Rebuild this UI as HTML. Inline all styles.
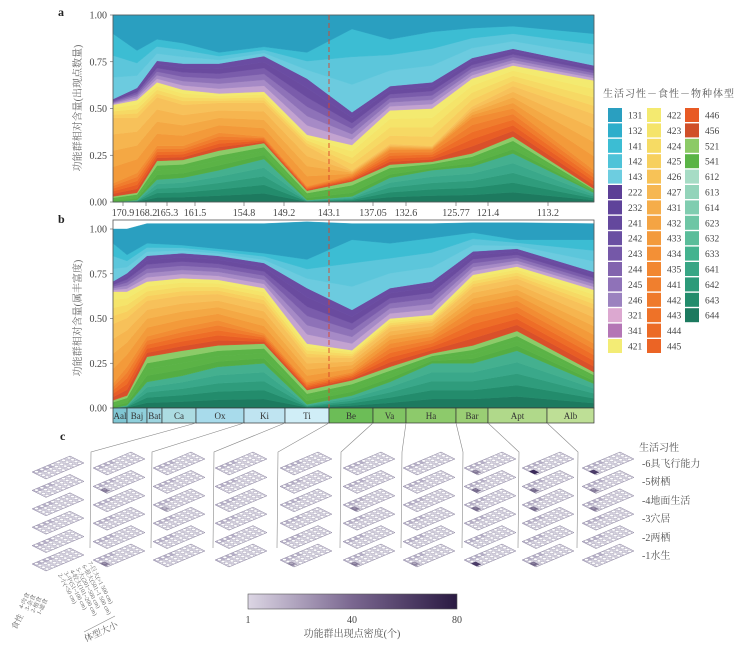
<!DOCTYPE html>
<html><head><meta charset="utf-8">
<style>
body{margin:0;background:#fff;}
svg text{font-family:"Liberation Serif","Noto Serif CJK SC","Noto Sans CJK SC",serif;}
</style></head>
<body>
<svg id="s" width="737" height="647" viewBox="0 0 737 647" xmlns="http://www.w3.org/2000/svg">
<g id="g"></g>
<text x="58" y="16" font-size="12" font-weight="bold" fill="#222">a</text>
<text x="58" y="223" font-size="12" font-weight="bold" fill="#222">b</text>
<text x="60" y="440" font-size="12" font-weight="bold" fill="#222">c</text>
<text transform="translate(81,108) rotate(-90)" font-size="10" fill="#666" text-anchor="middle">功能群相对含量(出现点数量)</text>
<text transform="translate(81,318) rotate(-90)" font-size="10" fill="#666" text-anchor="middle">功能群相对含量(属丰富度)</text>
<text x="603" y="97" font-size="10" fill="#555" letter-spacing="1">生活习性－食性－物种体型</text>
<text x="639" y="451" font-size="10" fill="#555">生活习性</text>
<text x="642" y="467" font-size="10" fill="#555">-6具飞行能力</text>
<text x="642" y="485" font-size="10" fill="#555">-5树栖</text>
<text x="642" y="504" font-size="10" fill="#555">-4地面生活</text>
<text x="642" y="522" font-size="10" fill="#555">-3穴居</text>
<text x="642" y="541" font-size="10" fill="#555">-2两栖</text>
<text x="642" y="559" font-size="10" fill="#555">-1水生</text>
<defs><linearGradient id="cb" x1="0" x2="1" y1="0" y2="0">
<stop offset="0" stop-color="#dcd6e4"/><stop offset="0.5" stop-color="#7a6790"/><stop offset="1" stop-color="#2a1a42"/></linearGradient></defs>
<rect x="248" y="594" width="209" height="15" fill="url(#cb)" stroke="#555" stroke-width="0.6"/>
<text x="248" y="623" font-size="10" fill="#444" text-anchor="middle">1</text>
<text x="352" y="623" font-size="10" fill="#444" text-anchor="middle">40</text>
<text x="457" y="623" font-size="10" fill="#444" text-anchor="middle">80</text>
<text x="352" y="637" font-size="10" fill="#555" text-anchor="middle">功能群出现点密度(个)</text>
<g font-size="6" fill="#666">
<text transform="translate(22,609) rotate(-62)">4-肉食</text>
<text transform="translate(28,611) rotate(-62)">3-杂食</text>
<text transform="translate(34,613) rotate(-62)">2-植食</text>
<text transform="translate(40,615) rotate(-62)">1-滤食</text>
<text transform="translate(16,630) rotate(-62)" font-size="8">食性</text>
<text transform="translate(88,563) rotate(62)">7-巨大(&gt;1 500 cm)</text>
<text transform="translate(82,566) rotate(62)">6-很大(501~1 500 cm)</text>
<text transform="translate(76,569) rotate(62)">5-大(201~500 cm)</text>
<text transform="translate(70,571) rotate(62)">4-较大(101~200 cm)</text>
<text transform="translate(64,573) rotate(62)">3-中(51~100 cm)</text>
<text transform="translate(58,575) rotate(62)">2-小(&lt;50 cm)</text>
<text transform="translate(86,642) rotate(-25)" font-size="9">体型大小</text>
</g>
<line x1="84" y1="632" x2="115" y2="616" stroke="#888" stroke-width="0.6"/>
</svg>
<script>
var G=document.getElementById('g');var out='';
var pal={
dt:['#1d7a5f','#238c6c','#2f9c7c','#3aa88a','#44b08f'],
g:['#54ad43','#5bb346','#5bb346','#8ccb68'],
o:['#d9502a','#e85d25','#ee6d27','#f07d2d','#f28c33'],
lo:['#f39a3a','#f4a844','#f6b54f','#f7c15a'],
y:['#f8cd5e','#f6d964','#f5e46a','#f3ea70'],
p:['#c3a3d0','#a68ac6','#8e72b8','#7a5cab','#6a4b9f','#6a4ca2'],
c:['#6ccbdf','#5cc6db','#3cbdd3'],
t:['#2a9fc0']};
var order=['dt','g','o','lo','y','p','c','t'];
function panel(xs,rows,top,h){
 var Y=function(v){return top+(1-v)*h;};
 for(var b=0;b<8;b++){
  var cols=pal[order[b]];
  for(var k=0;k<cols.length;k++){
   var lo=[],hi=[];
   for(var i=0;i<xs.length;i++){
    var L=b==0?0:rows[i][b-1],U=rows[i][b];
    var a=L+(U-L)*k/cols.length,c=L+(U-L)*(k+1)/cols.length;
    lo.push(xs[i]+','+Y(a).toFixed(1));hi.push(xs[i]+','+Y(c).toFixed(1));
   }
   out+='<polygon points="'+hi.join(' ')+' '+lo.reverse().join(' ')+'" fill="'+cols[k]+'" stroke="'+cols[k]+'" stroke-width="0.4"/>';
  }
 }
}
var xa=[113,137,157,183,219,264,307,352,390,432,472,513,594];
var ra=[[0,.03,.10,.45,.52,.55,.90,1],[.01,.05,.155,.45,.545,.61,.81,1],[.12,.22,.30,.56,.64,.755,.87,1],[.13,.225,.30,.52,.60,.74,.85,1],[.17,.275,.37,.53,.58,.74,.80,1],[.23,.315,.35,.53,.59,.78,.83,1],[.01,.06,.085,.30,.36,.66,.80,1],[.03,.11,.145,.17,.305,.48,.925,1],[.13,.20,.28,.31,.49,.62,.87,1],[.17,.215,.28,.30,.50,.64,.91,1],[.19,.26,.45,.51,.66,.77,.93,1],[.26,.35,.50,.62,.73,.82,.94,1],[.05,.07,.17,.47,.65,.73,.90,1]];
panel(xa,ra,15,187);
var xb=[113,127,147,182,218,264,307,352,390,432,473,517,594];
var rb0=[[0,.043,.136,.65,.707,.92,1],[.015,.07,.23,.65,.753,.856,1],[.146,.286,.40,.706,.85,.92,1.03],[.18,.32,.45,.725,.865,.91,1.03],[.23,.35,.49,.716,.85,.89,1.03],[.25,.36,.417,.67,.81,.865,1.03],[.02,.10,.146,.36,.67,.83,1.04],[.07,.155,.20,.323,.548,.94,1.03],[.146,.23,.36,.50,.67,.92,1.03],[.25,.305,.40,.52,.706,.95,1.03],[.25,.35,.55,.744,.875,.98,1.035],[.32,.43,.60,.79,.89,.94,1.035],[.136,.2,.36,.66,.76,.94,1.03]];
var rb=rb0.map(function(r){var lo=r[2]+0.65*(r[3]-r[2]);return [r[0],r[1],r[2],lo,r[3],r[4],r[5],r[6]];});
panel(xb,rb,229,179);
out+='<rect x="113" y="15" width="481" height="187" fill="none" stroke="#555" stroke-width="0.8"/>';
out+='<rect x="113" y="220" width="481" height="188" fill="none" stroke="#555" stroke-width="0.8"/>';
out+='<line x1="329" y1="15" x2="329" y2="206" stroke="#d9452b" stroke-width="0.9" stroke-dasharray="5,3"/>';
out+='<line x1="329" y1="220" x2="329" y2="408" stroke="#d9452b" stroke-width="0.9" stroke-dasharray="5,3"/>';
var yl=['1.00','0.75','0.50','0.25','0.00'];
for(var i=0;i<5;i++){var ya=15+i*46.75,yb=229+i*44.75;
 out+='<text x="107" y="'+(ya+3.5)+'" font-size="10" fill="#444" text-anchor="end">'+yl[i]+'</text>';
 out+='<text x="107" y="'+(yb+3.5)+'" font-size="10" fill="#444" text-anchor="end">'+yl[i]+'</text>';
 out+='<line x1="110" y1="'+ya+'" x2="113" y2="'+ya+'" stroke="#555" stroke-width="0.6"/>';
 out+='<line x1="110" y1="'+yb+'" x2="113" y2="'+yb+'" stroke="#555" stroke-width="0.6"/>';}
var tk=[[123,'170.9'],[146,'168.2'],[167,'165.3'],[195,'161.5'],[244,'154.8'],[284,'149.2'],[329,'143.1'],[373,'137.05'],[406,'132.6'],[456,'125.77'],[488,'121.4'],[548,'113.2']];
tk.forEach(function(t){out+='<line x1="'+t[0]+'" y1="202" x2="'+t[0]+'" y2="206" stroke="#555" stroke-width="0.6"/><text x="'+t[0]+'" y="216" font-size="10" fill="#444" text-anchor="middle">'+t[1]+'</text>';});
var st=[[113,127,'Aal','#7fc6d3'],[127,147,'Baj','#8fcfdb'],[147,162,'Bat','#9dd4df'],[162,196,'Ca','#acdce2'],[196,244,'Ox','#a8dbeb'],[244,285,'Ki','#bfe4f1'],[285,329,'Ti','#d0eef7'],[329,373,'Be','#6cbd57'],[373,406,'Va','#80c463'],[406,456,'Ha','#8dca6b'],[456,488,'Bar','#9ace74'],[488,547,'Apt','#b0d98a'],[547,594,'Alb','#bedf96']];
st.forEach(function(s){out+='<rect x="'+s[0]+'" y="408" width="'+(s[1]-s[0])+'" height="15" fill="'+s[3]+'" stroke="#333" stroke-width="0.7"/><text x="'+((s[0]+s[1])/2)+'" y="419" font-size="9" fill="#333" text-anchor="middle">'+s[2]+'</text>';});
var lg=[[['131','#2a9fc0'],['132','#2eaecb'],['141','#3cbdd3'],['142','#4ec3d8'],['143','#6dcde0'],['222','#5c3f96'],['232','#5f439a'],['241','#64489d'],['242','#6a4fa2'],['243','#7558a8'],['244','#8264ae'],['245','#8f72b8'],['246','#9b82bf'],['321','#dca8d0'],['341','#b476b5'],['421','#f3ec75']],
[['422','#f4ea70'],['423','#f5e46a'],['424','#f6db64'],['425','#f7d05e'],['426','#f7c257'],['427','#f6b752'],['431','#f5ad4a'],['432','#f4a443'],['433','#f39a3c'],['434','#f39036'],['435','#f28731'],['441','#f07f2e'],['442','#ef7a2b'],['443','#ee7228'],['444','#ec6b26'],['445','#eb6425']],
[['446','#e85a24'],['456','#d04f28'],['521','#8cca66'],['541','#5ab446'],['612','#a6dcc5'],['613','#93d4ba'],['614','#80cdb0'],['623','#6ec6a5'],['632','#5abd9a'],['633','#44b38f'],['641','#38a685'],['642','#2c9a79'],['643','#228c6c'],['644','#1c7a5f']]];
var lx=[608,647,685];
lg.forEach(function(col,c){col.forEach(function(e,r){var y=108+r*15.4;
 out+='<rect x="'+lx[c]+'" y="'+y+'" width="14" height="14" fill="'+e[1]+'"/><text x="'+(lx[c]+20)+'" y="'+(y+10.5)+'" font-size="9.5" fill="#444">'+e[0]+'</text>';});});
var from=[196,244,285,329,373,406,456,488,547],to=[91,152,214,278,341,402,463,519,578];
for(var i=0;i<9;i++){out+='<polyline points="'+from[i]+',423 '+to[i]+',452 '+(to[i]-1)+',548" fill="none" stroke="#888" stroke-width="0.6"/>';}
var cx=[32,93,153,215,280,343,403,464,522,582];
var dark=[[],[[1,0.5],[5,0.5]],[[2,0.3]],[],[[5,0.4]],[[2,0.5],[5,0.5]],[[5,0.4]],[[0,0.5],[1,0.6],[2,0.6],[5,0.9]],[[0,1],[1,0.6],[2,0.6],[5,0.6]],[[0,0.9],[1,0.5],[2,0.5]]];
for(var c=0;c<10;c++){for(var r=0;r<6;r++){
 var Lx=cx[c],Ly=468+r*18.4+(c==0?4:0);
 var ux=38,uy=-16,vx=14,vy=7;
 var P=function(a,b){return (Lx+ux*a+vx*b).toFixed(1)+','+(Ly+uy*a+vy*b).toFixed(1);};
 out+='<polygon points="'+P(0,0)+' '+P(1,0)+' '+P(1,1)+' '+P(0,1)+'" fill="#dedbe6" stroke="#8a839e" stroke-width="0.5"/>';
 out+='<polygon points="'+P(0,0)+' '+P(0.5,0)+' '+P(0.5,0.3)+' '+P(0,0.3)+'" fill="#a9a1bd" opacity="0.7"/>';
 for(var i=1;i<7;i++)out+='<line x1="'+P(i/7,0).split(',')[0]+'" y1="'+P(i/7,0).split(',')[1]+'" x2="'+P(i/7,1).split(',')[0]+'" y2="'+P(i/7,1).split(',')[1]+'" stroke="#a7a1b8" stroke-width="0.3"/>';
 for(var i=0;i<7;i++)for(var j=0;j<4;j++){
  var px=Lx+ux*(i+0.5)/7+vx*(j+0.5)/4,py=Ly+uy*(i+0.5)/7+vy*(j+0.5)/4;
  out+='<ellipse cx="'+px.toFixed(1)+'" cy="'+py.toFixed(1)+'" rx="2" ry="1.2" fill="#fff" stroke="#9d97af" stroke-width="0.4"/>';}
 var rowIdx=r;
 dark[c].forEach(function(d){if(d[0]==rowIdx){out+='<polygon points="'+P(0,0.5)+' '+P(0.12,0.5)+' '+P(0.12,0.9)+' '+P(0,0.9)+'" fill="#3b2a5a" opacity="'+d[1]+'"/>';}});
}}
G.innerHTML=out;
</script>
</body></html>
